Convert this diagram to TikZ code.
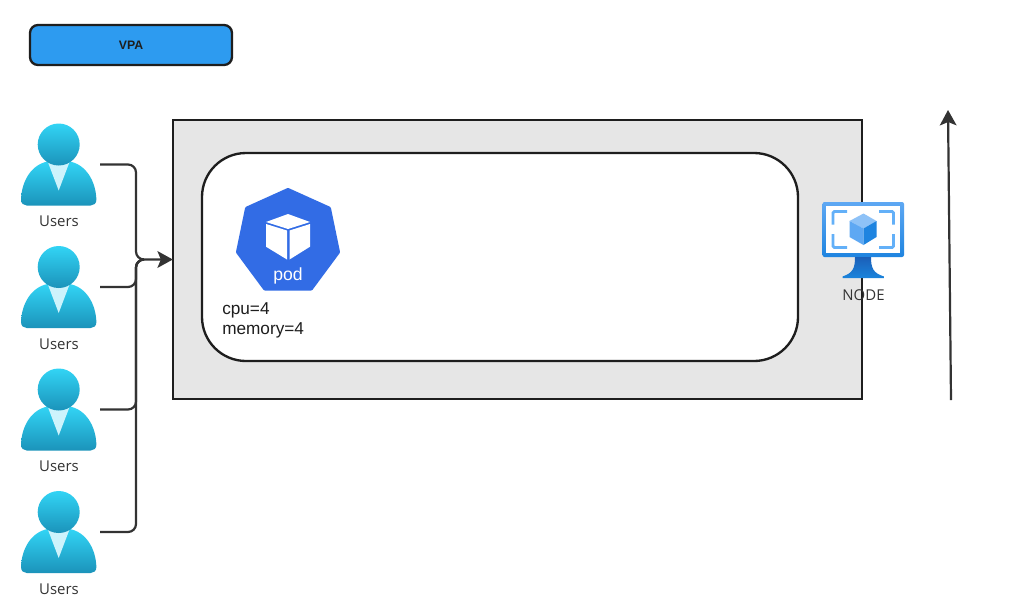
\documentclass[tikz,border=0pt]{standalone}
\usepackage{fontspec}
\setmainfont{Liberation Sans}
\newfontfamily\opensans{Open Sans}
\usetikzlibrary{arrows.meta,calc}
\definecolor{ink}{HTML}{1E1E1E}
\definecolor{wire}{HTML}{333333}
\definecolor{vpablue}{HTML}{2D9BF0}
\definecolor{panel}{HTML}{E6E6E6}
\definecolor{podblue}{HTML}{326CE5}
\definecolor{cyanA}{HTML}{32D4F5}
\definecolor{cyanB}{HTML}{1B93BA}
\definecolor{veeC}{HTML}{CDF3FC}
\definecolor{scrA}{HTML}{5EA8F3}
\definecolor{scrB}{HTML}{1E84E0}
\definecolor{brk}{HTML}{63B0F8}
\definecolor{standA}{HTML}{1B5FB8}
\definecolor{standB}{HTML}{1A84DC}
\tikzset{
  box/.style={draw=ink,line width=1.75pt},
  wirepath/.style={draw=wire,line width=1.65pt,rounded corners=6pt},
  tipped/.style={-{Stealth[length=11.5pt,width=12.5pt,inset=2.5pt]}},
  lbl/.style={font=\opensans\fontsize{11.2pt}{12pt}\selectfont,text=wire,inner sep=0pt},
  hook/.style={minimum width=61.5pt,minimum height=62pt,inner sep=0pt,outer sep=0pt},
  usericon/.pic={
    \shade[top color=cyanA,bottom color=cyanB]
      (-37.7,55) .. controls (-37,36) and (-27,20) .. (-11,17) -- (11,17)
      .. controls (27,20) and (37,36) .. (37.7,55)
      .. controls (37.7,59) and (35,61) .. (32,61) -- (-32,61)
      .. controls (-35,61) and (-37.7,59) .. (-37.7,55) -- cycle;
    \fill[veeC] (-11,17) -- (11,17) -- (0,46) -- cycle;
    \shade[top color=cyanA,bottom color=cyanB,shading angle=0] (0,0) circle[radius=21];
  }
}
\begin{document}
\begin{tikzpicture}[x=0.75pt,y=-0.75pt]
\useasboundingbox (0,0) rectangle (1024,615);
\fill[white] (0,0) rectangle (1024,615);

% top box
\node[box,fill=vpablue,rounded corners=6pt,minimum width=151.5pt,minimum height=30pt,inner sep=0pt,
      font=\fontsize{9.2pt}{10pt}\selectfont\bfseries,text=ink] (vpa) at (131,45) {VPA};

% panels
\node[box,fill=panel,minimum width=517pt,minimum height=209.5pt,inner sep=0pt,outer sep=0pt] (outer) at (517.5,259.5) {};
\node[box,fill=white,rounded corners=33pt,minimum width=447pt,minimum height=156pt,inner sep=0pt] (inner) at (500,257) {};

% users
\foreach \n/\y in {1/144.5,2/267,3/389.5,4/512}{
  \pic at (58.7,\y) {usericon};
  \node[hook] (u\n) at (59,\y+20) {};
  \node[lbl] (ul\n) at (59,\y+76.8) {Users};
}

% connectors
\coordinate (bus1) at (136,259.5);
\draw[wirepath,tipped] (u1.east) -| (bus1) -- (outer.west);
\draw[wirepath] (u2.east) -| (bus1) -- ($(bus1)+(8,0)$);
\draw[wirepath] (u3.east) -| (bus1) -- ($(bus1)+(8,0)$);
\draw[wirepath] (u4.east) -| (bus1) -- ($(bus1)+(8,0)$);

% pod
\fill[podblue,draw=podblue,line width=3pt,line join=round]
  (288,190) -- (329,208.5) -- (338,252) -- (311,288.5) -- (265,288.5) -- (238,252) -- (247,208.5) -- cycle;
\fill[white] (288,214) -- (310,222) -- (288,229) -- (266,222) -- cycle;
\fill[white] (266,224) -- (287,230.5) -- (287,259.5) -- (266,246.7) -- cycle;
\fill[white] (310,224) -- (289.5,230.5) -- (289.5,259.5) -- (310,246.7) -- cycle;
\node[inner sep=0pt,text=white,font=\fontsize{13.2pt}{14pt}\selectfont] (podl) at (288,276) {pod};
\node[inner sep=0pt,text=ink,align=left,anchor=north west,font=\fontsize{12.9pt}{15pt}\selectfont] (spec) at (222,302.5) {cpu=4\\[0.2pt]memory=4};

% node monitor
\shade[top color=scrA,bottom color=scrB,rounded corners=1.5pt] (822.5,202) rectangle (904,257);
\fill[white] (826,206) rectangle (900,252.7);
\shade[top color=standA,bottom color=standB]
  (855,257) -- (871,257) .. controls (871,268) and (873,273) .. (884,276.5) -- (884,278) -- (842.5,278) -- (842.5,276.5)
  .. controls (853,273) and (855,268) .. (855,257) -- cycle;
\begin{scope}[draw=brk,line width=2.1pt,rounded corners=1pt]
  \draw (833,224.5) -- (833,211.5) -- (847,211.5);
  \draw (879,211.5) -- (893.5,211.5) -- (893.5,224.5);
  \draw (833,234) -- (833,247.5) -- (847,247.5);
  \draw (879,247.5) -- (893.5,247.5) -- (893.5,234);
\end{scope}
\fill[scrA!70!white] (863.5,213.5) -- (876.5,221) -- (863.5,228.5) -- (849.5,221) -- cycle;
\fill[scrA] (849.5,221) -- (863.5,228.5) -- (863.5,245) -- (849.5,237) -- cycle;
\fill[scrB] (876.5,221) -- (863.5,228.5) -- (863.5,245) -- (876.5,237) -- cycle;
\node[lbl] (nodel) at (863.5,295.5) {NODE};

% free arrow
\coordinate (upstart) at (951,400);
\coordinate (upend) at (948,110);
\draw[draw=wire,line width=1.65pt,tipped] (upstart) -- (upend);
\end{tikzpicture}
\end{document}
